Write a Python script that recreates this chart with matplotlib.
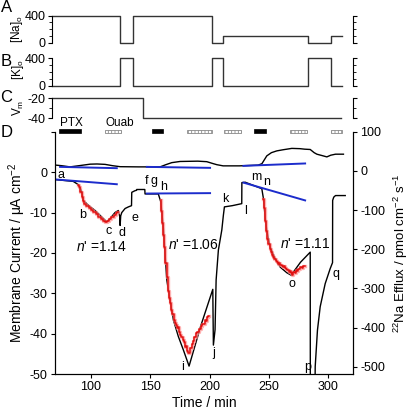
import numpy as np
import matplotlib
matplotlib.use("Agg")
import matplotlib.pyplot as plt
from matplotlib.patches import Rectangle
from matplotlib.ticker import FixedLocator

plt.rcParams['font.family'] = ['Liberation Sans', 'DejaVu Sans']
plt.rcParams['mathtext.fontset'] = 'custom'
plt.rcParams['mathtext.rm'] = 'Liberation Sans'
plt.rcParams['mathtext.it'] = 'Liberation Sans:italic'
plt.rcParams['axes.unicode_minus'] = False
plt.rcParams['hatch.linewidth'] = 0.6

# ---- panel A/B/C: solution protocol (step changes) ----
step_t = [67, 124.5, 135.7, 202.3, 211.6, 283.2, 302.4, 311.9]
na_out = [400, 0, 400, 0, 100, 0, 100, 100]
k_out = [0, 400, 0, 400, 0, 400, 0, 0]
vm_t = [67, 143.6, 311.4]
vm_val = [-20, -40, -40]

# ---- bars above panel D (start, end, filled) ----
bar_start = [73.0, 111.8, 151.2, 181.2, 212.1, 237.7, 267.8, 302.1]
bar_end = [91.6, 125.0, 161.0, 202.3, 226.2, 247.6, 282.4, 311.4]
bar_filled = [True, False, True, False, False, True, False, False]

# ---- panel D: membrane current (left axis) ----
cur_t = [68.2, 75, 85, 89.3, 91.0, 92.2, 93.5, 97.7, 103.4, 109, 113.2, 116,
         120.2, 123, 124.2, 124.5, 125.0, 125.9, 128.7, 131.5, 134.1, 134.3,
         137, 138.3, 138.5, 145.3, 145.5, 156.7, 158.8, 161, 163.8, 166.6,
         169.4, 173.6, 177.8, 182.6, 192.5, 202.6, 202.8, 203.1, 204.5, 205.4,
         207.3, 210.2, 211.5, 212.4, 219, 227.0, 227.1, 229.9, 243.9, 245.3,
         246.7, 248.1, 250.9, 255.1, 259.4, 265, 268.6, 276.5, 284.7, 284.8,
         288.5, 288.9, 290.8, 293.1, 297.3, 301.5, 303.5, 303.6, 304.5, 306,
         314.2]
cur_i = [-1.8, -2.0, -2.3, -3.1, -4.0, -4.9, -7.0, -8.2, -9.5, -11.1, -12.3,
         -11.5, -10.0, -9.5, -11.0, -13.2, -10.8, -10.0, -9.0, -8.6, -8.3, -5.0,
         -4.6, -4.5, -4.3, -4.3, -5.4, -5.4, -7.4, -14.0, -26.7, -31.7, -36.6,
         -40.7, -44.0, -48.0, -38.0, -29.0, -35.0, -42.8, -39.0, -26.7, -19.3,
         -14.3, -10.7, -8.6, -8.3, -7.8, -2.6, -2.5, -4.1, -6.6, -11.1, -14.4,
         -18.5, -21.4, -23.5, -24.9, -25.5, -22.3, -19.8, -60, -60, -48.1,
         -39.1, -33.3, -27.6, -23.9, -22.4, -7.0, -6.2, -5.8, -5.8]

# ---- panel D: 22Na efflux (right axis) ----
flux_t = [68.2, 75, 82.3, 90, 99.2, 105, 111.8, 118, 124.5, 140, 158.2, 163,
          168, 175, 190, 197.5, 203, 206, 211.3, 225, 240.8, 244, 248.1, 252,
          256.5, 262, 269.2, 276, 280, 284.7, 288, 290.3, 295, 298.7, 302,
          306, 312.7]
flux_v = [15.3, 13.3, 10.2, 13.3, 17.1, 17.6, 16.6, 13.3, 10.7, 10.2, 10.2,
          15.8, 21.0, 24.0, 24.8, 23.5, 18.4, 15.8, 12.8, 12.8, 14.6, 18.4,
          38.3, 46.5, 51.0, 54.0, 57.4, 56.7, 55.4, 54.6, 46.5, 42.6, 38.8,
          35.7, 40.0, 42.6, 42.6]

# ---- fitted curves (red) ----
fit1_t = [89.3, 90.5, 91.5, 92.5, 93.5, 95, 97, 99, 101, 103, 105, 107, 109,
          111, 113, 114.5, 116, 118, 120, 121.5, 123]
fit1_i = [-3.1, -3.8, -5.0, -6.2, -7.1, -7.8, -8.4, -8.9, -9.4, -9.9, -10.4,
          -11.0, -11.6, -12.1, -12.3, -12.1, -11.6, -11.0, -10.5, -10.1, -9.9]
fit2_t = [158.8, 159.8, 160.6, 161.4, 162.2, 163.2, 164.2, 165.2, 166.2, 167.1,
          168, 169, 170, 170.8, 171.8, 172.8, 173.8, 174.8, 175.8, 176.6,
          177.6, 178.6, 179.6, 180.6, 181.6, 182.6, 183.4, 184.2, 185.2, 186.2,
          187.2, 188.2, 189.2, 190.2, 191.2, 192.2, 193.2, 194.2, 195.2, 196.2,
          197.2, 198.2, 199.2]
fit2_i = [-7.0, -9.5, -12.5, -15.5, -18.5, -22.6, -26.0, -29.5, -31.2, -32.5,
          -34.1, -35.0, -36.5, -37.4, -37.8, -38.5, -38.4, -39.6, -40.2, -40.7,
          -41.5, -42.0, -43.2, -43.0, -44.3, -44.8, -44.0, -43.5, -42.6, -41.8,
          -40.7, -40.9, -39.8, -39.6, -38.8, -38.9, -38.1, -37.5, -37.6, -36.7,
          -36.9, -35.9, -35.6]
fit3_t = [245.3, 246.2, 247.1, 248.1, 249.0, 250.0, 251.0, 252.0, 253.0, 254.0,
          255.0, 256.0, 257.0, 258.0, 259.0, 260.0, 261.0, 262.0, 263.0, 264.0,
          265.0, 266.0, 267.0, 268.0, 269.0, 270.0, 271.0, 272.0, 273.0, 274.0,
          275.0, 276.0, 277.0, 278.0, 279.0, 280.4]
fit3_i = [-6.6, -9.0, -12.0, -14.5, -16.5, -17.8, -19.0, -19.8, -20.5, -21.0,
          -21.5, -22.0, -22.2, -22.8, -22.6, -23.0, -23.2, -23.4, -23.3, -23.8,
          -24.0, -24.3, -24.6, -24.5, -25.0, -25.4, -24.8, -24.9, -24.2, -24.4,
          -23.9, -24.0, -23.5, -23.7, -23.2, -23.3]

# ---- baselines (blue) ----
base_cur_t = [(69.6, 121.7), (147.0, 200.3), (228.4, 280.4)]
base_cur_i = [(-1.8, -3.0), (-5.3, -5.2), (-2.6, -7.0)]
base_flux_t = [(73.9, 121.7), (147.0, 200.3), (228.4, 280.4)]
base_flux_v = [(10.2, 6.9), (10.2, 7.7), (12.8, 18.9)]

# ---- point labels ----
pt_names = list("abcdefghijklmnopq")
pt_t = [74.6, 93.0, 114.6, 125.9, 137.1, 146.4, 153.1, 161.0, 177.0, 203.7,
        213.0, 229.9, 239.1, 248.1, 269.2, 282.4, 306.6]
pt_i = [-0.8, -10.5, -14.6, -15.0, -11.3, -2.3, -2.3, -3.7, -48.1, -44.8,
        -6.6, -9.5, -1.1, -2.5, -27.6, -48.1, -25.1]
hill_t = [109.0, 186.0, 280.4]
hill_i = [-18.5, -18.1, -17.9]
hill_n = ["1.14", "1.06", "1.11"]

W, H = 409, 412
fig = plt.figure(figsize=(W / 100, H / 100), dpi=100)

def px_axes(x0, y0, x1, y1):
    return fig.add_axes([x0 / W, 1 - y1 / H, (x1 - x0) / W, (y1 - y0) / H])

line_col = '#333333'
tick_fs = 9

def style_top(ax, ylim, major, minor):
    ax.set_xlim(66.9, 321)
    ax.set_ylim(*ylim)
    for s in ['top', 'bottom']:
        ax.spines[s].set_visible(False)
    ax.set_xticks([])
    ax.yaxis.set_major_locator(FixedLocator(major))
    ax.yaxis.set_minor_locator(FixedLocator(minor))
    ax.tick_params(axis='y', which='both', right=True, labelright=False,
                   labelsize=tick_fs, pad=1.5)
    ax.tick_params(axis='y', which='major', length=3)
    ax.tick_params(axis='y', which='minor', length=2.5)
    ax.patch.set_visible(False)

# A
axA = px_axes(51.7, 15.7, 352.7, 42.7)
axA.plot(step_t, na_out, drawstyle='steps-post', color=line_col, lw=1, clip_on=False)
style_top(axA, (0, 400), [0, 400], [100, 200, 300])
# B
axB = px_axes(51.7, 58.3, 352.7, 85.7)
axB.plot(step_t, k_out, drawstyle='steps-post', color=line_col, lw=1, clip_on=False)
style_top(axB, (0, 400), [0, 400], [100, 200, 300])
# C
axC = px_axes(51.7, 98.3, 352.7, 118.3)
axC.plot(vm_t, vm_val, drawstyle='steps-post', color=line_col, lw=1, clip_on=False)
style_top(axC, (-40, -20), [-40, -20], [-30])

fig.text(0.5 / W, 1 - 7 / H, "A", fontsize=12, va='center')
fig.text(0.5 / W, 1 - 61 / H, "B", fontsize=12, va='center')
fig.text(0.5 / W, 1 - 98 / H, "C", fontsize=12, va='center')
fig.text(0.5 / W, 1 - 132 / H, "D", fontsize=12, va='center')
fig.text(17 / W, 1 - 29 / H, "[Na]$_\\mathrm{o}$", rotation=90, fontsize=8.5,
         ha='center', va='center')
fig.text(18 / W, 1 - 70 / H, "[K]$_\\mathrm{o}$", rotation=90, fontsize=8.5,
         ha='center', va='center')
fig.text(18 / W, 1 - 108 / H, "V$_\\mathrm{m}$", rotation=90, fontsize=8.5,
         ha='center', va='center')

# D
axD = px_axes(54.5, 131.7, 353.3, 374.2)
axD.set_xlim(69.2, 321)
axD.set_ylim(-50, 10)
axR = axD.twinx()
axR.set_ylim(-519, 100)

axD.plot(cur_t, cur_i, color='black', lw=1, zorder=3)
axR.plot(flux_t, flux_v, color='black', lw=1, zorder=3)

for t, v in [(fit1_t, fit1_i), (fit2_t, fit2_i), (fit3_t, fit3_i)]:
    axD.plot(t, v, color='#ff9090', lw=2.4, alpha=0.7, drawstyle='steps-mid', zorder=4)
    axD.plot(t, v, color='#e01010', lw=1.1, drawstyle='steps-mid', zorder=5)

blue = '#1c2ccc'
for (t0, t1), (y0, y1) in zip(base_cur_t, base_cur_i):
    axD.plot([t0, t1], [y0, y1], color=blue, lw=1.4, zorder=6)
for (t0, t1), (y0, y1) in zip(base_flux_t, base_flux_v):
    axR.plot([t0, t1], [y0, y1], color=blue, lw=1.4, zorder=6)

for name, t, v in zip(pt_names, pt_t, pt_i):
    axD.text(t, v, name, fontsize=9, ha='center', va='center')
for t, v, n in zip(hill_t, hill_i, hill_n):
    axD.text(t, v, "$n$' =" + n, fontsize=10, ha='center', va='center')

for s, e, f in zip(bar_start, bar_end, bar_filled):
    if f:
        r = Rectangle((s, 9.75), e - s, 0.85, facecolor='black',
                      edgecolor='black', lw=0.5, clip_on=False, zorder=7)
    else:
        r = Rectangle((s, 9.75), e - s, 0.7, facecolor='white',
                      edgecolor='#888888', lw=0.6, hatch='|||||', clip_on=False, zorder=7)
    axD.add_patch(r)
axD.text(83.2, 12.2, "PTX", fontsize=8.5, ha='center', va='center')
axD.text(111.8, 12.2, "Ouab", fontsize=8.5, ha='left', va='center')

for ax in (axD, axR):
    ax.spines['top'].set_visible(False)
axD.set_xticks([100, 150, 200, 250, 300])
axD.set_yticks([-50, -40, -30, -20, -10, 0, 10])
axD.set_yticklabels(['-50', '-40', '-30', '-20', '-10', '0', ''])
axR.set_yticks([-500, -400, -300, -200, -100, 0, 100])
axD.tick_params(labelsize=tick_fs, length=3, pad=2)
axR.tick_params(labelsize=tick_fs, length=3, pad=2)

axD.set_xlabel("Time / min", fontsize=10, labelpad=2)
axD.set_ylabel("Membrane Current / \u03bcA cm$^{-2}$", fontsize=10, labelpad=1)
axR.set_ylabel("$^{22}$Na Efflux / pmol cm$^{-2}$ s$^{-1}$", fontsize=9.5)
axR.yaxis.set_label_coords(1.129, 0.5)

fig.savefig("out.png", dpi=100)
